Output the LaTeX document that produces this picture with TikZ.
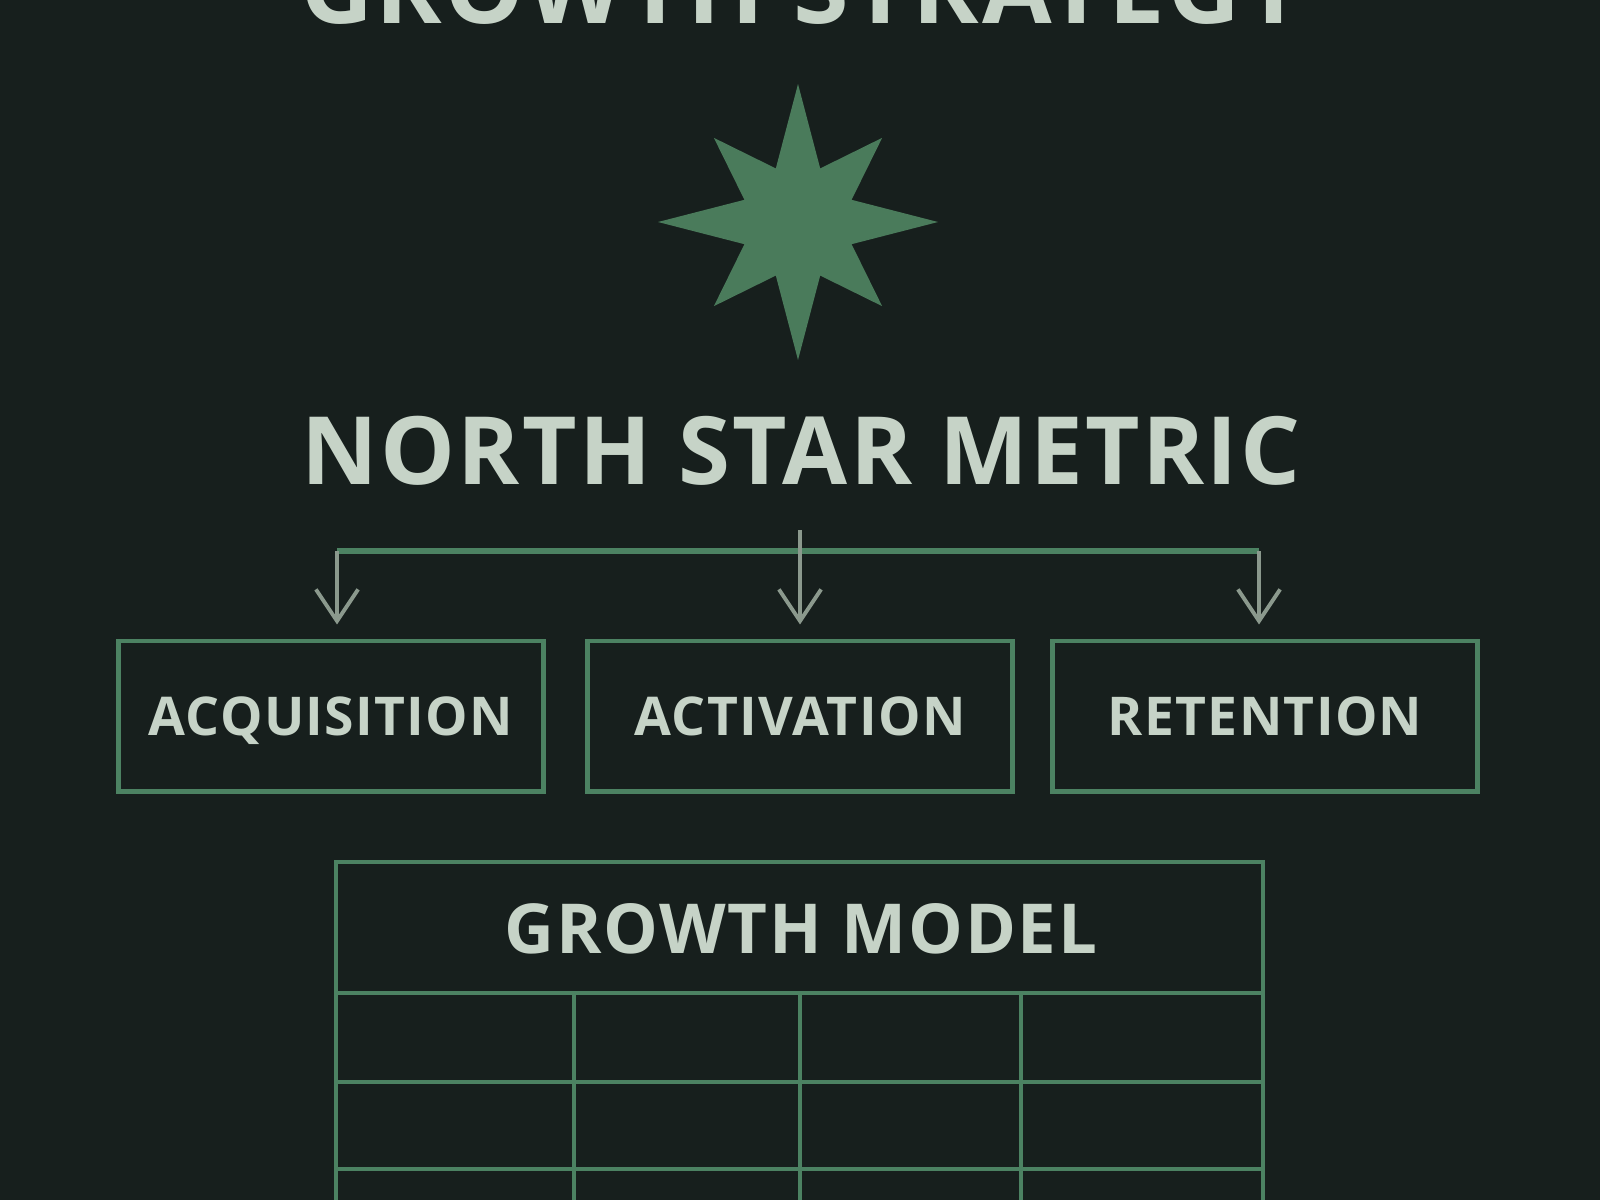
\documentclass[tikz,border=0pt]{standalone}
\usepackage{fontspec}
\setmainfont{Open Sans}
\newfontfamily\spacedsans{Open Sans}[LetterSpace=2.5]
\usetikzlibrary{positioning}
\usetikzlibrary{arrows.meta}
\definecolor{bgdark}{HTML}{171F1D}
\definecolor{stargreen}{HTML}{4A7B5B}
\definecolor{linegreen}{HTML}{4C8262}
\definecolor{arrowgray}{HTML}{8B998D}
\definecolor{labeltext}{HTML}{C6D3C7}

\tikzset{
  heading/.style={text=labeltext, inner sep=0pt, font=\spacedsans\bfseries\fontsize{26.8}{28}\selectfont},
  stagebox/.style={draw=linegreen, line width=1.4pt, minimum width=4.24cm, minimum height=1.5cm,
    text height=0.38cm, text depth=0pt,
    text=labeltext, font=\spacedsans\bfseries\fontsize{15.2}{16}\selectfont},
  feed/.style={arrowgray, line width=1.1pt, -{Straight Barb[length=9pt,width=12pt]}, shorten >=0.14cm},
  gridline/.style={linegreen, line width=1.4pt}
}

\begin{document}
\begin{tikzpicture}[x=0.01cm, y=-0.01cm]

\clip (0,0) rectangle (1600,1200);
\fill[bgdark] (0,0) rectangle (1600,1200);

% title, cut off by the top edge
\node[heading, anchor=base, font=\spacedsans\bfseries\fontsize{28.7}{30}\selectfont] (title) at (803,23) {GROWTH STRATEGY};

% the north star
\coordinate (star) at (798,222);
\fill[stargreen] (star) +(90:138) -- +(67.5:58) -- +(45:119) -- +(22.5:58) -- +(0:140)
  -- +(-22.5:58) -- +(-45:119) -- +(-67.5:58) -- +(-90:138) -- +(-112.5:58) -- +(-135:119)
  -- +(-157.5:58) -- +(180:140) -- +(157.5:58) -- +(135:119) -- +(112.5:58) -- cycle;

\node[heading, anchor=base] (metric) at (801,484) {NORTH STAR METRIC};

% the three stages
\node[stagebox] (acq) at (331,716) {ACQUISITION};
\node[stagebox] (act) at (800,716) {ACTIVATION};
\node[stagebox] (ret) at (1265,716) {RETENTION};

\coordinate (split) at (800,530);
\coordinate (bar) at (800,551);

\draw[linegreen, line width=1.5pt] ([xshift=0.06cm]acq.north |- bar) -- ([xshift=-0.06cm]ret.north |- bar);
\draw[feed] (split) -- (act.north);
\draw[feed] ([xshift=0.06cm]acq.north |- bar) -- ([xshift=0.06cm]acq.north);
\draw[feed] ([xshift=-0.06cm]ret.north |- bar) -- ([xshift=-0.06cm]ret.north);

% growth model table
\draw[gridline] (336,862) rectangle (1263,1240);
\draw[gridline] (336,993) -- (1263,993);
\foreach \y in {1082,1169} \draw[gridline] (336,\y) -- (1263,\y);
\foreach \x in {574,800,1021} \draw[gridline] (\x,993) -- (\x,1240);

\node[heading, font=\spacedsans\bfseries\fontsize{19.6}{21}\selectfont] (model) at (801,929) {GROWTH MODEL};

\end{tikzpicture}
\end{document}
